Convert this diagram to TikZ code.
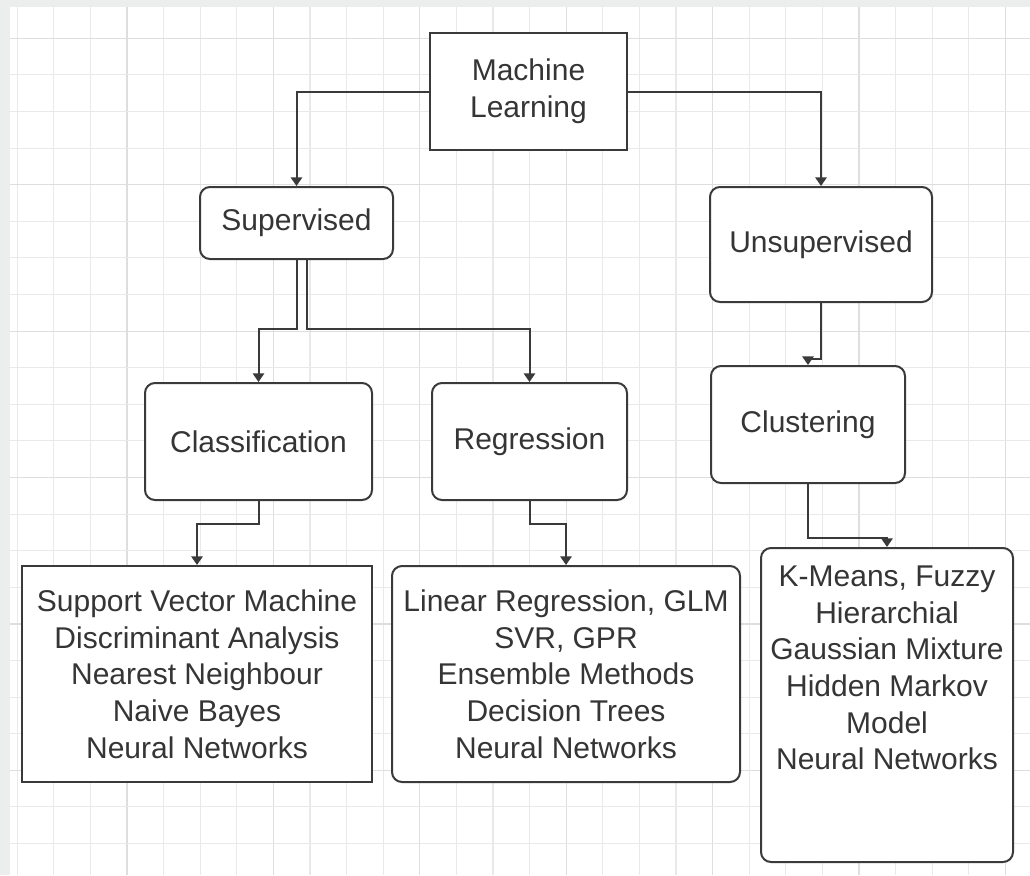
\documentclass[tikz,border=0pt]{standalone}
\usepackage{fontspec}
\setmainfont{Liberation Sans}
\usetikzlibrary{arrows.meta}
\definecolor{edge}{HTML}{3A3A3A}
\definecolor{txt}{HTML}{353535}
\definecolor{frame}{HTML}{ECEEED}
\definecolor{gridminor}{HTML}{E9E9E9}
\definecolor{gridmajor}{HTML}{DEDEDE}
\begin{document}
\begin{tikzpicture}[x=0.75pt,y=-0.75pt,
  box/.style={draw=edge, line width=1.5pt, fill=white, text=txt,
    font=\fontsize{22.5}{27.5}\selectfont, align=center, inner sep=0pt},
  rbox/.style={box, rounded corners=7.5pt},
  arr/.style={draw=edge, line width=1.5pt, -{Triangle[length=6.5pt,width=8.5pt]}},
  listtext/.style={text=txt, font=\fontsize{22.5}{27.5}\selectfont, align=center, inner sep=0pt},
]
\useasboundingbox (0,0) rectangle (1030,875);
% page background and drawing grid
\fill[frame] (0,0) rectangle (1030,875);
\fill[white] (10,7) rectangle (1030,875);
\begin{scope}
  \clip (10,7) rectangle (1030,875);
  \foreach \i in {0,...,28} {
    \pgfmathsetmacro\xx{17.2+36.6*\i}
    \pgfmathtruncatemacro\m{mod(\i,4)}
    \ifnum\m=3
      \draw[gridmajor, line width=0.9pt] (\xx,7) -- (\xx,875);
    \else
      \draw[gridminor, line width=0.8pt] (\xx,7) -- (\xx,875);
    \fi
  }
  \foreach \j in {0,...,24} {
    \pgfmathsetmacro\yy{1.7+36.6*\j}
    \pgfmathtruncatemacro\m{mod(\j,4)}
    \ifnum\m=1
      \draw[gridmajor, line width=0.9pt] (10,\yy) -- (1030,\yy);
    \else
      \draw[gridminor, line width=0.8pt] (10,\yy) -- (1030,\yy);
    \fi
  }
\end{scope}

% nodes
\node[box, minimum width=147.75pt, minimum height=87.75pt] (ml) at (528.5,91.5) {Machine\\Learning};
\node[rbox, minimum width=144.75pt, minimum height=54pt] (sup) at (296.5,223) {Supervised};
\node[rbox, minimum width=166.5pt, minimum height=86.25pt] (unsup) at (821,244.5) {Unsupervised};
\node[rbox, minimum width=170.25pt, minimum height=87.75pt] (cls) at (258.5,441.5) {Classification};
\node[rbox, minimum width=146.25pt, minimum height=87.75pt] (reg) at (529.5,441.5) {Regression};
\node[rbox, minimum width=145.5pt, minimum height=87.75pt] (clu) at (808,424.5) {Clustering};
\node[box, minimum width=262.5pt, minimum height=162pt] (clslist) at (197,674)
  {Support Vector Machine\\Discriminant Analysis\\Nearest Neighbour\\Naive Bayes\\Neural Networks};
\node[rbox, minimum width=261pt, minimum height=162pt] (reglist) at (566,674)
  {Linear Regression, GLM\\SVR, GPR\\Ensemble Methods\\Decision Trees\\Neural Networks};
\node[rbox, minimum width=189pt, minimum height=235.5pt] (clulist) at (887,705) {};
\node[listtext] (clutext) at (887,668)
  {K-Means, Fuzzy\\Hierarchial\\Gaussian Mixture\\Hidden Markov\\Model\\Neural Networks};

% connectors
\draw[arr] (ml.west) -| (sup.north);
\draw[arr] (ml.east) -| (unsup.north);
\draw[arr] (sup.south) -- ++(0,69) -| (cls.north);
\draw[arr] ([xshift=7.5pt]sup.south) -- ++(0,69) -| (reg.north);
\draw[arr] (cls.south) -- ++(0,23) -| (clslist.north);
\draw[arr] (reg.south) -- ++(0,23) -| (reglist.north);
\draw[arr] (unsup.south) -- ++(0,56) -| (clu.north);
\draw[arr] (clu.south) -- ++(0,54) -| (clulist.north);
\end{tikzpicture}
\end{document}
